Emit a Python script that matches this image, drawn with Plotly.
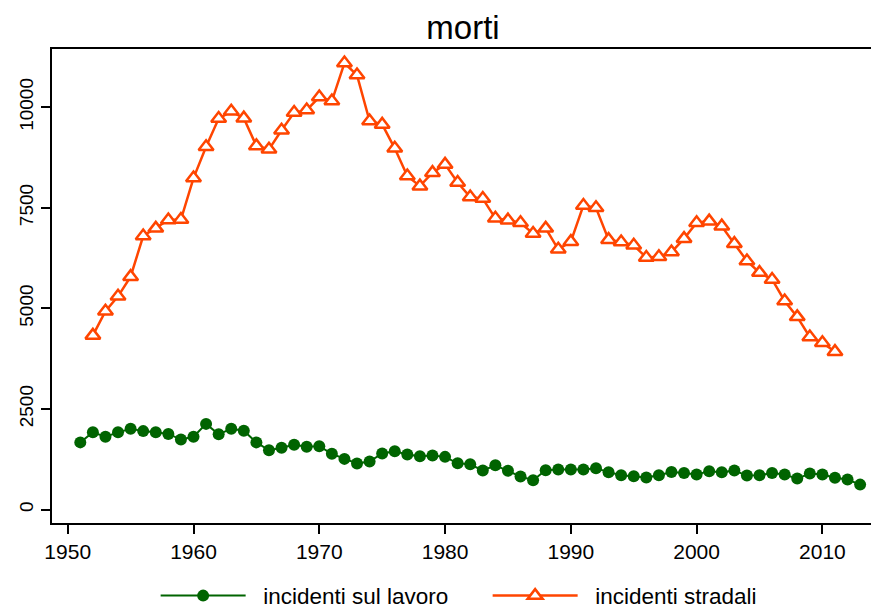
import plotly.graph_objects as go

anni_lavoro = list(range(1951, 2014))
morti_lavoro = [1670, 1920, 1810, 1920, 2010, 1950, 1920, 1880, 1740, 1810,
                2130, 1870, 2010, 1960, 1670, 1475, 1535, 1610, 1560, 1575,
                1385, 1260, 1145, 1195, 1395, 1450, 1370, 1325, 1345, 1310,
                1150, 1125, 970, 1100, 965, 820, 730, 980, 995, 995,
                995, 1025, 930, 855, 830, 795, 855, 935, 910, 870,
                955, 930, 970, 845, 855, 910, 870, 770, 895, 870,
                790, 745, 620]

anni_strada = list(range(1952, 2012))
morti_strada = [4330, 4930, 5300, 5790, 6800, 6990, 7200, 7210, 8240, 9020,
                9720, 9900, 9730, 9040, 8955, 9430, 9870, 9930, 10255, 10155,
                11100, 10800, 9660, 9575, 8980, 8290, 8040, 8375, 8580, 8130,
                7770, 7730, 7240, 7195, 7130, 6860, 6990, 6470, 6660, 7560,
                7500, 6710, 6650, 6570, 6265, 6285, 6400, 6735, 7130, 7170,
                7045, 6610, 6180, 5890, 5720, 5185, 4790, 4290, 4145, 3925]

x_ticks = [1950, 1960, 1970, 1980, 1990, 2000, 2010]
y_ticks = [0, 2500, 5000, 7500, 10000]

GREEN = "#006400"
ORANGE = "#FF4500"
FONT = "Liberation Sans, Arial, sans-serif"
PAD = "\u00a0\u00a0"

fig = go.Figure()
fig.add_trace(go.Scatter(
    x=anni_lavoro, y=morti_lavoro, mode="lines+markers",
    name=PAD + "incidenti sul lavoro",
    line=dict(color=GREEN, width=2),
    marker=dict(symbol="circle", size=12, color=GREEN),
))
fig.add_trace(go.Scatter(
    x=anni_strada, y=morti_strada, mode="lines+markers",
    name=PAD + "incidenti stradali",
    line=dict(color=ORANGE, width=2.5),
    marker=dict(symbol="triangle-up", size=13, color="white",
                line=dict(color=ORANGE, width=2.5)),
))

# figure is slightly wider than the window so the plot area runs off the right edge
W = 880
fig.update_layout(
    width=W, height=608,
    margin=dict(l=52, r=0, t=49, b=85, autoexpand=False),
    paper_bgcolor="white", plot_bgcolor="white",
    font=dict(family=FONT, color="black"),
    title=dict(text="morti", x=463 / W, xanchor="center", y=0.955, yanchor="middle",
               font=dict(size=33, family=FONT, color="black")),
    showlegend=True,
    legend=dict(orientation="h", x=463 / W, xanchor="center", y=-0.154, yanchor="middle",
                font=dict(size=22.5, family=FONT), itemwidth=85,
                entrywidth=232, entrywidthmode="pixels",
                bgcolor="rgba(0,0,0,0)", tracegroupgap=0),
)
fig.update_xaxes(
    range=[1948.75, 2014.58], tickvals=x_ticks, ticktext=[str(v) for v in x_ticks],
    showgrid=False, zeroline=False, showline=True, linecolor="black", linewidth=2,
    mirror=True, ticks="outside", ticklen=9, tickwidth=1.5, tickcolor="black",
    tickfont=dict(size=21, family=FONT),
)
fig.update_yaxes(
    range=[-334, 11449], tickvals=y_ticks, ticktext=[str(v) for v in y_ticks],
    showgrid=False, zeroline=False, showline=True, linecolor="black", linewidth=2,
    ticks="outside", ticklen=9, tickwidth=1.5, tickcolor="black", tickangle=-90,
    tickfont=dict(size=19, family=FONT),
)

fig.write_html(
    "out.html",
    config={"responsive": False, "displayModeBar": False},
    post_script="document.body.style.margin='0';document.body.style.overflow='hidden';",
)
